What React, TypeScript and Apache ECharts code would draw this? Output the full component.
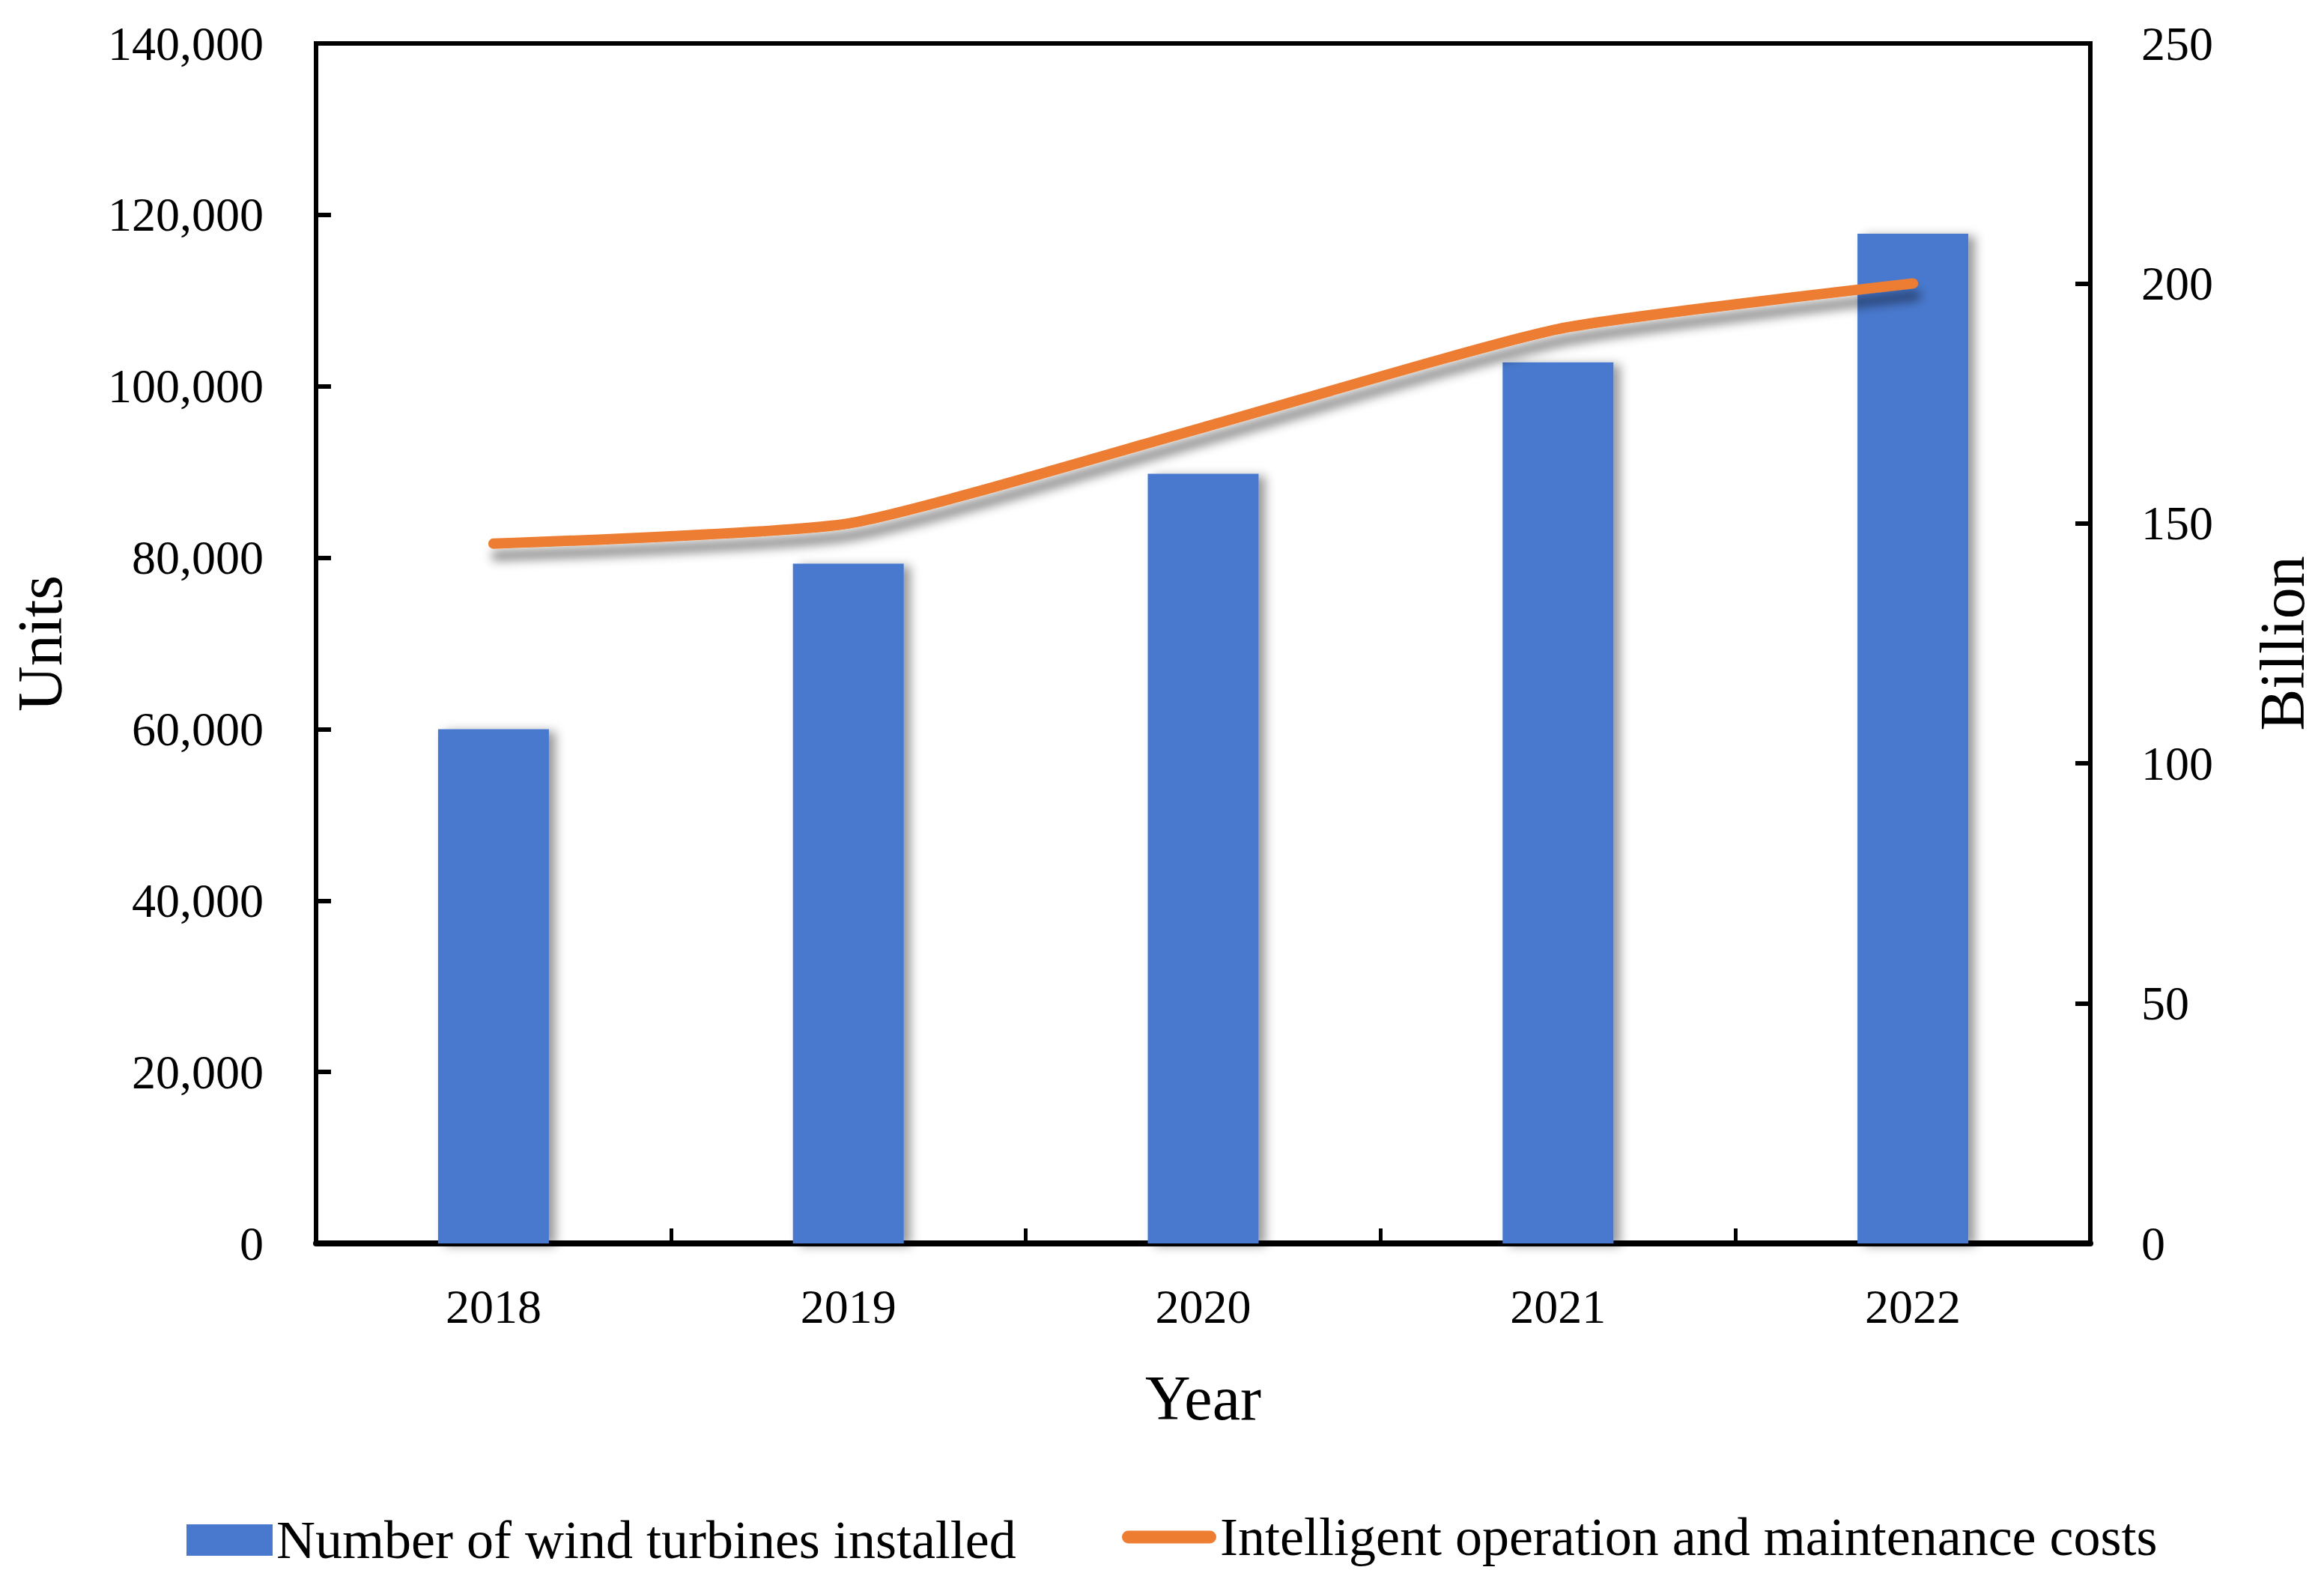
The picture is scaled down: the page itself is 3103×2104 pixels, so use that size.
import React, { useEffect, useRef } from "react";
import * as echarts from "echarts";

const years = ["2018", "2019", "2020", "2021", "2022"];
const turbinesInstalled = [60000, 79300, 89800, 102800, 117800];
const omCosts = [145.8, 150, 170, 190.5, 200];
const seriesNames = [
  "Number of wind turbines installed",
  "Intelligent operation and maintenance costs",
];
const axisNames = { x: "Year", left: "Units", right: "Billion" };

const FONT = "Liberation Serif";
const BLUE = "#4879CE";
const ORANGE = "#ED7D31";

export default function App() {
  const ref = useRef<HTMLDivElement>(null);
  useEffect(() => {
    if (!ref.current) return;
    const chart = echarts.init(ref.current, null, { renderer: "svg" });
    const tickFont = { fontFamily: FONT, fontSize: 64, color: "#000" };
    const nameFont = { fontFamily: FONT, fontSize: 84, color: "#000" };
    const legendFont = { fontFamily: FONT, fontSize: 72, color: "#000" };
    chart.setOption({
      animation: false,
      backgroundColor: "#fff",
      grid: {
        left: 422,
        right: 312,
        top: 58,
        bottom: 444,
        show: true,
        borderColor: "#000",
        borderWidth: 6,
        containLabel: false,
        outerBoundsMode: "none",
      },
      xAxis: {
        type: "category",
        data: years,
        name: axisNames.x,
        nameLocation: "middle",
        nameGap: 164,
        nameTextStyle: nameFont,
        axisLine: { show: true, lineStyle: { color: "#000", width: 8 } },
        axisTick: { show: true, inside: true, length: 20, lineStyle: { color: "#000", width: 5 } },
        axisLabel: { ...tickFont, margin: 52 },
        splitLine: { show: false },
      },
      yAxis: [
        {
          type: "value",
          min: 0,
          max: 140000,
          interval: 20000,
          name: axisNames.left,
          nameLocation: "middle",
          nameGap: 327,
          nameTextStyle: nameFont,
          axisLine: { show: true, lineStyle: { color: "#000", width: 6 } },
          axisTick: { show: true, inside: true, length: 20, lineStyle: { color: "#000", width: 6 } },
          axisLabel: {
            ...tickFont,
            margin: 70,
            formatter: (v: number) => v.toLocaleString("en-US"),
          },
          splitLine: { show: false },
        },
        {
          type: "value",
          min: 0,
          max: 250,
          interval: 50,
          position: "right",
          name: axisNames.right,
          nameLocation: "middle",
          nameGap: 214,
          nameTextStyle: nameFont,
          axisLine: { show: true, lineStyle: { color: "#000", width: 6 } },
          axisTick: { show: true, inside: true, length: 20, lineStyle: { color: "#000", width: 6 } },
          axisLabel: { ...tickFont, margin: 68 },
          splitLine: { show: false },
        },
      ],
      legend: [
        {
          data: [seriesNames[0]],
          left: 249,
          top: 2020,
          padding: 0,
          itemWidth: 115,
          itemHeight: 42,
          icon: "rect",
          selectedMode: false,
          itemStyle: { color: BLUE, borderWidth: 0, shadowBlur: 0, shadowOffsetX: 0, shadowOffsetY: 0 },
          textStyle: legendFont,
        },
        {
          data: [seriesNames[1]],
          left: 1498,
          top: 2016,
          padding: 0,
          itemWidth: 126,
          itemHeight: 17,
          icon: "path://M8.5,0 H117.5 A8.5,8.5 0 0 1 117.5,17 H8.5 A8.5,8.5 0 0 1 8.5,0 Z",
          selectedMode: false,
          itemStyle: { color: ORANGE, borderWidth: 0, shadowBlur: 0, shadowOffsetX: 0, shadowOffsetY: 0 },
          textStyle: legendFont,
        },
      ],
      series: [
        {
          name: seriesNames[0],
          type: "bar",
          data: turbinesInstalled,
          yAxisIndex: 0,
          barWidth: 148,
          color: BLUE,
          itemStyle: {
            color: BLUE,
            shadowColor: "rgba(0,0,0,0.4)",
            shadowBlur: 14,
            shadowOffsetX: 9,
            shadowOffsetY: 3,
          },
        },
        {
          name: seriesNames[1],
          type: "line",
          data: omCosts,
          yAxisIndex: 1,
          smooth: 0.18,
          symbol: "none",
          color: ORANGE,
          lineStyle: {
            color: ORANGE,
            width: 14,
            cap: "round",
            join: "round",
            shadowColor: "rgba(0,0,0,0.45)",
            shadowBlur: 14,
            shadowOffsetX: 4,
            shadowOffsetY: 16,
          },
        },
      ],
    });
    return () => chart.dispose();
  }, []);
  return (
    <div
      ref={ref}
      style={{ position: "fixed", left: 0, top: 0, width: 3103, height: 2104, background: "#fff" }}
    />
  );
}
